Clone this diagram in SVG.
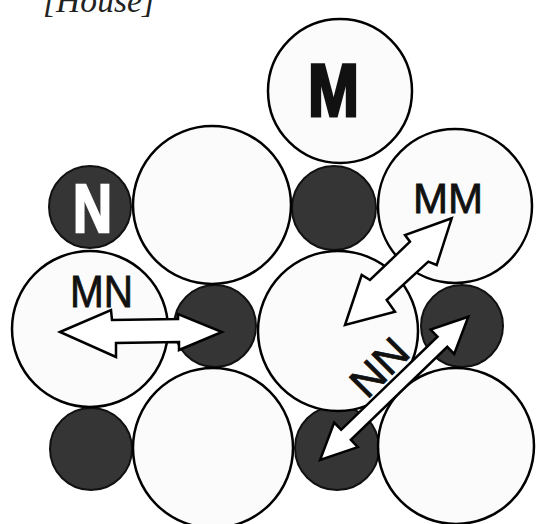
<svg xmlns="http://www.w3.org/2000/svg" width="539" height="524" viewBox="0 0 539 524">
<style>
.big{fill:#fbfbfb;stroke:#000;stroke-width:2.5}
.small{fill:#353535;stroke:#111;stroke-width:2}
.arr{fill:#fff;stroke:#000;stroke-width:2.5;stroke-linejoin:miter}
.lab{font-family:"Liberation Sans",Arial,sans-serif;fill:#111;stroke:#111;stroke-width:0.8}
</style>
<rect width="539" height="524" fill="#fff"/>
<text x="43" y="12" font-family="Liberation Serif,serif" font-style="italic" font-size="34" fill="#222" textLength="112" lengthAdjust="spacingAndGlyphs">[House]</text>
<g id="small-atoms">
<circle id="n1" class="small" cx="90" cy="207" r="41"/>
<circle id="n2" class="small" cx="334" cy="208" r="42"/>
<circle id="n3" class="small" cx="215" cy="326" r="41"/>
<circle id="n4" class="small" cx="462" cy="326" r="41"/>
<circle id="n5" class="small" cx="91" cy="449" r="41"/>
<circle id="n6" class="small" cx="337" cy="448" r="42"/>
</g>
<g id="big-atoms">
<circle id="m1" class="big" cx="340" cy="91" r="72"/>
<circle id="m2" class="big" cx="212" cy="205" r="79"/>
<circle id="m3" class="big" cx="455" cy="206" r="77"/>
<circle id="m4" class="big" cx="338" cy="331" r="80"/>
<circle id="m5" class="big" cx="90" cy="329" r="78"/>
<circle id="m6" class="big" cx="213" cy="448" r="80"/>
<circle id="m7" class="big" cx="456" cy="446" r="78"/>
</g>
<g id="connectors">
<polygon id="mn-arrow" class="arr" points="60,332 111,310 112,320 178,319 178,314 222,332 179,350 179,342 116,343 116,357"/>
<polygon id="mm-arrow" class="arr" points="451.7,218.3 405,235 410,241.7 370,280 361.7,275 345,325 395,311.7 386.7,300 428.3,261.7 436.7,265"/>
<polygon id="nn-arrow" class="arr" transform="translate(394.2,388.3) rotate(-44)" points="103,0 67,-17 67,-7 -67,-7 -67,-17 -103,0 -67,17 -67,7 67,7 67,17"/>
</g>
<g id="labels">
<text class="lab" x="308" y="116" font-size="74" font-weight="bold" textLength="51" lengthAdjust="spacingAndGlyphs" style="stroke-width:3">M</text>
<text class="lab" x="73" y="232" font-size="69" font-weight="bold" textLength="39" lengthAdjust="spacingAndGlyphs" style="fill:#fff;stroke:#fff;stroke-width:2.5">N</text>
<text class="lab" x="70" y="307" font-size="44" textLength="63" lengthAdjust="spacingAndGlyphs">MN</text>
<text class="lab" x="413" y="213" font-size="43" textLength="70" lengthAdjust="spacingAndGlyphs">MM</text>
<text class="lab" transform="translate(379,367) rotate(-45)" x="-32" y="15" font-size="42" textLength="64" lengthAdjust="spacingAndGlyphs">NN</text>
</g>
</svg>
